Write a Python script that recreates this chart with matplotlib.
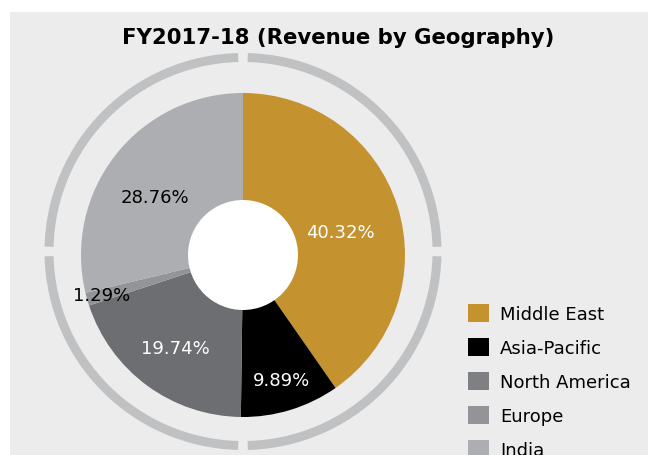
import numpy as np
import matplotlib
matplotlib.use('Agg')
import matplotlib.pyplot as plt
from matplotlib.patches import Wedge, Rectangle, Patch

# Data
regions = ['Middle East', 'Asia-Pacific', 'North America', 'Europe', 'India']
shares = [40.32, 9.89, 19.74, 1.29, 28.76]
colors = ['#c4922f', '#000000', '#6d6e71', '#939497', '#adaeb1']
legend_colors = ['#c4922f', '#000000', '#7f8083', '#939497', '#adaeb1']
text_colors = ['white', 'white', 'white', 'black', 'black']
label_r = [0.615, 0.81, 0.71, 0.91, 0.65]   # label distance as fraction of radius
label_rot = [-4, 0, 0, 0, 5]                # small angular nudge of labels (deg)

W, H = 648, 456
fig = plt.figure(figsize=(W / 100, H / 100), dpi=100)
fig.patch.set_facecolor('white')
ax = fig.add_axes([0, 0, 1, 1])
ax.set_xlim(0, W)
ax.set_ylim(0, H)
ax.axis('off')

# grey panel
ax.add_patch(Rectangle((10, 0), W - 10, H - 13, facecolor='#ececec', edgecolor='none', zorder=0))

# outer decorative ring, four arcs with gaps
ring_c = (243, H - 252.5)
gap = 1.4
for a in (0, 90, 180, 270):
    ax.add_patch(Wedge(ring_c, 198.5, a + gap, a + 90 - gap, width=9,
                       facecolor='#c0c1c3', edgecolor='none', zorder=1))

# pie
pie_c = (243, H - 256)
R = 162
wedges, _ = ax.pie(shares, colors=colors, startangle=90, counterclock=False,
                   center=pie_c, radius=R, wedgeprops=dict(linewidth=0))
for w in wedges:
    w.set_zorder(2)
ax.set_xlim(0, W)
ax.set_ylim(0, H)
ax.set_aspect('equal')

# hole
ax.add_patch(plt.Circle(pie_c, 55, facecolor='white', edgecolor='none', zorder=3))

# percentage labels
for w, s, f, d, tc in zip(wedges, shares, label_r, label_rot, text_colors):
    mid = np.deg2rad((w.theta1 + w.theta2) / 2 + d)
    x = pie_c[0] + f * R * np.cos(mid)
    y = pie_c[1] + f * R * np.sin(mid)
    ax.text(x, y, f'{s:.2f}%', color=tc, fontsize=13, ha='center', va='center', zorder=4)

fig.text(338.5 / W, 1 - 37.5 / H, 'FY2017-18 (Revenue by Geography)', fontsize=15.3,
         fontweight='bold', ha='center', va='center')

handles = [Patch(facecolor=c, edgecolor='none') for c in legend_colors]
fig.legend(handles, regions, loc='upper left', bbox_to_anchor=(468 / W, 1 - 305 / H),
           frameon=False, fontsize=13, handlelength=1.163, handleheight=1.163,
           labelspacing=0.82, handletextpad=0.61, borderpad=0, borderaxespad=0)

fig.savefig('out.png', dpi=100, facecolor=fig.get_facecolor())
